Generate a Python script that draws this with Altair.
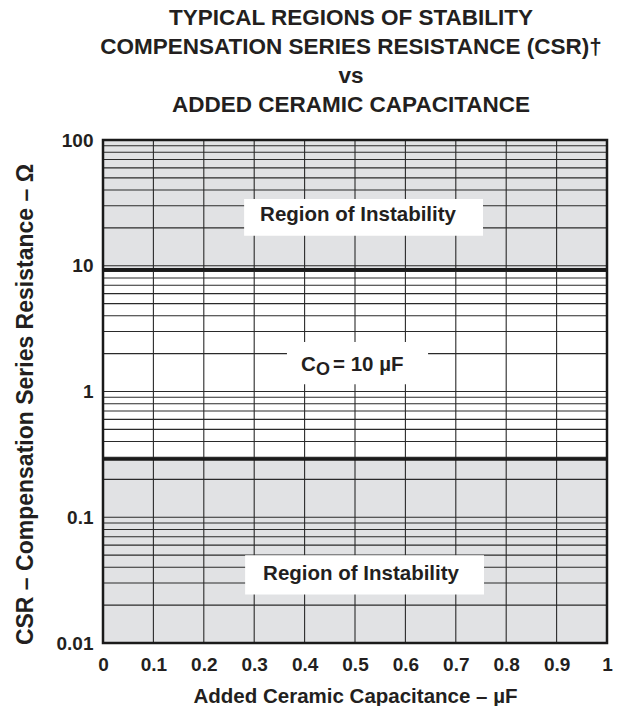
import altair as alt
import pandas as pd

# ---- values ----
x_ticks = [0, 0.1, 0.2, 0.3, 0.4, 0.5, 0.6, 0.7, 0.8, 0.9, 1]
y_decades = [0.01, 0.1, 1, 10, 100]
y_minor_mult = [1, 2, 3, 4, 5, 6, 7, 8, 9]
csr_low = 0.29    # lower limit of stable region (Ω)
csr_high = 9.3    # upper limit of stable region (Ω)

label_text = ["Region of Instability", "Region of Instability"]
label_x = [0.506, 0.512]
label_y = [25.5, 0.0353]
box_x = [0.28, 0.282, 0.365]
box_x2 = [0.754, 0.756, 0.645]
box_y = [17.3, 0.0243, 1.14]
box_y2 = [34.0, 0.0498, 2.47]
co_x = 0.5
co_y = 1.62

FONT = "Liberation Sans"
INK = "#231f20"
GRID = "#2a2a2a"
FILL = "#e1e2e4"

y_grid = [round(m * d, 6) for d in y_decades[:-1] for m in y_minor_mult] + [y_decades[-1]]

xscale = alt.Scale(domain=[0, 1], nice=False, zero=False)
yscale = alt.Scale(type="log", domain=[0.01, 100], nice=False)

xaxis = alt.Axis(values=x_ticks, format="~g", title="Added Ceramic Capacitance – µF",
                 grid=False, ticks=False, domain=False, labelFont=FONT, labelFontSize=19,
                 labelFontWeight="bold", labelColor=INK, labelPadding=12,
                 titleFont=FONT, titleFontSize=20.5, titleFontWeight="bold", titleColor=INK,
                 titlePadding=12, labelFlush=False)
yaxis = alt.Axis(values=y_decades, labelExpr="format(datum.value, '~g')",
                 title="CSR – Compensation Series Resistance – Ω",
                 grid=False, ticks=False, domain=False, labelFont=FONT, labelFontSize=19,
                 labelFontWeight="bold", labelColor=INK, labelPadding=10,
                 titleFont=FONT, titleFontSize=23, titleFontWeight="bold", titleColor=INK,
                 titlePadding=19, titleY=264, labelFlush=False)


def X(f):
    return alt.X(f, type="quantitative", scale=xscale, axis=xaxis)


def Y(f):
    return alt.Y(f, type="quantitative", scale=yscale, axis=yaxis)


regions = pd.DataFrame({"x": [0, 0], "x2": [1, 1],
                        "y": [csr_high, y_decades[0]], "y2": [y_decades[-1], csr_low]})
gray = alt.Chart(regions).mark_rect(fill=FILL, stroke=None).encode(
    x=X("x"), x2="x2", y=Y("y"), y2="y2")

vgrid = alt.Chart(pd.DataFrame({"x": x_ticks[1:-1]})).mark_rule(
    color=GRID, strokeWidth=1.1).encode(x=X("x"))
hgrid = alt.Chart(pd.DataFrame({"y": y_grid[1:-1]})).mark_rule(
    color=GRID, strokeWidth=1.1).encode(y=Y("y"))

bounds = alt.Chart(pd.DataFrame({"y": [csr_low, csr_high]})).mark_rule(
    color="#1a1a1a", strokeWidth=3.5).encode(y=Y("y"))

boxes = alt.Chart(pd.DataFrame({"x": box_x, "x2": box_x2, "y": box_y, "y2": box_y2})).mark_rect(
    fill="white", stroke=None).encode(x=X("x"), x2="x2", y=Y("y"), y2="y2")

region_txt = alt.Chart(pd.DataFrame({"x": label_x, "y": label_y, "t": label_text})).mark_text(
    font=FONT, fontSize=20.5, fontWeight="bold", color=INK, align="center", baseline="middle"
).encode(x=X("x"), y=Y("y"), text="t:N")

co_df = pd.DataFrame({"x": [co_x], "y": [co_y]})
co_c = alt.Chart(co_df).mark_text(font=FONT, fontSize=20.5, fontWeight="bold", color=INK,
                                  align="left", baseline="middle", dx=-54).encode(
    x=X("x"), y=Y("y"), text=alt.value("C"))
co_o = alt.Chart(co_df).mark_text(font=FONT, fontSize=18, fontWeight="bold", color=INK,
                                  align="left", baseline="middle", dx=-39, dy=5).encode(
    x=X("x"), y=Y("y"), text=alt.value("O"))
co_rest = alt.Chart(co_df).mark_text(font=FONT, fontSize=20.5, fontWeight="bold", color=INK,
                                     align="left", baseline="middle", dx=-22).encode(
    x=X("x"), y=Y("y"), text=alt.value("= 10 µF"))

border = alt.Chart(pd.DataFrame({"x": [0], "x2": [1], "y": [y_decades[0]], "y2": [y_decades[-1]]})).mark_rect(
    filled=False, stroke="#1a1a1a", strokeWidth=2.5).encode(x=X("x"), x2="x2", y=Y("y"), y2="y2")

chart = alt.layer(gray, vgrid, hgrid, bounds, boxes, region_txt, co_c, co_o, co_rest, border).properties(
    width=504, height=503,
    autosize=alt.AutoSizeParams(type="none"),
    padding={"left": 95, "top": 132, "right": 14, "bottom": 63},
    title=alt.Title(
        text=["TYPICAL REGIONS OF STABILITY",
              "COMPENSATION SERIES RESISTANCE (CSR)†",
              "vs",
              "ADDED CERAMIC CAPACITANCE"],
        font=FONT, fontSize=22.5, fontWeight="bold", color=INK, lineHeight=29,
        anchor="middle", baseline="bottom", offset=-8, dx=-4),
).configure_view(stroke=None)

chart.save("out.html", embed_options={"renderer": "svg", "actions": False})
